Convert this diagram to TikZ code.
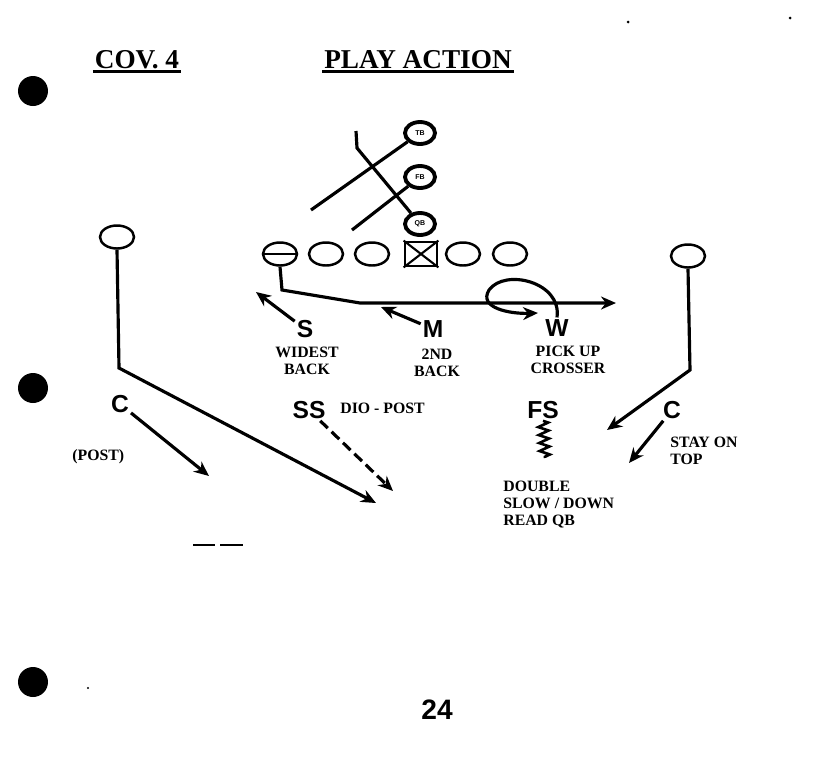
\documentclass[tikz,border=0pt]{standalone}
\usepackage{fontspec}
\setmainfont{Liberation Serif}
\setsansfont{Liberation Sans}
\usetikzlibrary{arrows.meta,shapes.geometric,decorations.pathmorphing}

\begin{document}
\begin{tikzpicture}[x=0.02cm,y=-0.02cm,
  player/.style={draw,ellipse,line width=1.4pt,inner sep=0pt,minimum width=0.68cm,minimum height=0.46cm},
  back/.style={draw,ellipse,line width=2.2pt,inner sep=0pt,minimum width=0.6cm,minimum height=0.44cm,font=\sffamily\bfseries\fontsize{4}{4}\selectfont},
  route/.style={line width=1.8pt},
  arr/.style={route,-{Stealth[length=3mm,width=2.6mm]}},
  defender/.style={font=\sffamily\bfseries\fontsize{14}{14}\selectfont,inner sep=1pt},
  note/.style={font=\bfseries\fontsize{9}{9.5}\selectfont,align=center,inner sep=0pt},
  heading/.style={font=\bfseries\fontsize{15.5}{15.5}\selectfont,inner sep=1pt},
  hole/.style={fill,circle,inner sep=0pt,minimum size=0.6cm},
]
  \useasboundingbox (0,0) rectangle (828,768);

  % headings
  \node[heading] (cov) at (137,60) {COV. 4};
  \node[heading] (play) at (418,60) {PLAY ACTION};
  \draw[line width=1.5pt] (cov.south west) -- (cov.south east);
  \draw[line width=1.5pt] (play.south west) -- (play.south east);

  % binder holes and specks
  \node[hole] (hole1) at (33,91) {};
  \node[hole] (hole2) at (33,388) {};
  \node[hole] (hole3) at (33,682) {};
  \fill (628,22) circle (1.5) (790,18) circle (1.5) (88,688) circle (1.2);

  % offensive line
  \node[player] (lt) at (280,254) {};
  \draw[line width=1.4pt] (lt.west) -- (lt.east);
  \node[player] (lg) at (326,254) {};
  \node[player] (lg2) at (372,254) {};
  \node[draw,line width=1.6pt,minimum width=0.64cm,minimum height=0.48cm,inner sep=0pt] (ctr) at (421,254) {};
  \draw[line width=1.2pt] (ctr.north west) -- (ctr.south east) (ctr.north east) -- (ctr.south west);
  \node[player] (rg) at (463,254) {};
  \node[player] (rt) at (510,254) {};

  % backfield
  \node[back] (tb) at (420,133) {TB};
  \node[back] (fb) at (420,177) {FB};
  \node[back] (qb) at (420,224) {QB};
  \coordinate (tbend) at (311,210);
  \coordinate (fbend) at (352,230);
  \coordinate (qbtop) at (356,131);
  \coordinate (qbbend) at (357,148);
  \draw[route] (tb) -- (tbend);
  \draw[route] (fb) -- (fbend);
  \draw[route] (qbtop) -- (qbbend) -- (qb);

  % receivers
  \node[player] (lwr) at (117,237) {};
  \node[player] (rwr) at (688,256) {};

  % linebackers
  \node[defender] (s) at (305,329) {S};
  \node[defender] (m) at (433,329) {M};
  \node[defender] (w) at (557,328) {W};
  \node[note] (sn) at (307,361) {WIDEST\\BACK};
  \node[note] (mn) at (437,363) {2ND\\BACK};
  \node[note] (wn) at (568,360) {PICK UP\\CROSSER};

  % secondary
  \node[defender] (lc) at (120,404) {C};
  \node[note,anchor=west] (lcn) at (72,457) {(POST)};
  \node[defender] (ss) at (309,410) {SS};
  \node[note,anchor=west] (ssn) at (340,408) {DIO - POST};
  \node[defender] (fs) at (543,410) {FS};
  \node[defender] (rc) at (672,410) {C};
  \node[note,align=left,anchor=north west] (rcn) at (670,437) {STAY ON\\TOP};
  \node[note,align=left,anchor=north west] (fsn) at (503,481) {DOUBLE\\SLOW / DOWN\\READ QB};

  % routes
  \coordinate (ltcorner) at (282,290);
  \coordinate (ltbend) at (360,303);
  \coordinate (ltend) at (616,303);
  \draw[arr] (lt.south) -- (ltcorner) -- (ltbend) -- (ltend);
  \coordinate (lwrcorner) at (119,368);
  \coordinate (lwrend) at (376,503);
  \draw[arr] (lwr.south) -- (lwrcorner) -- (lwrend);
  \coordinate (rwrcorner) at (690,370);
  \coordinate (rwrend) at (607,430);
  \draw[arr] (rwr.south) -- (rwrcorner) -- (rwrend);

  % coverage
  \coordinate (send) at (256,292);
  \coordinate (mend) at (381,307);
  \coordinate (wend) at (538,313);
  \coordinate (lcend) at (209,476);
  \coordinate (ssend) at (393,491);
  \coordinate (fsend) at (545,458);
  \coordinate (rcend) at (629,463);
  \draw[arr] (s) -- (send);
  \draw[arr] (m) -- (mend);
  \draw[arr] (w.north) .. controls (562,282) and (505,268) .. (489,290)
    .. controls (478,308) and (510,314) .. (wend);
  \draw[arr] (lc) -- (lcend);
  \draw[arr,dashed,dash pattern=on 6pt off 3pt] (ss) -- (ssend);
  \draw[line width=1.5pt,decorate,decoration={zigzag,segment length=0.16cm,amplitude=0.1cm}] (fs.south) -- (fsend);
  \draw[arr] (rc) -- (rcend);

  % marks
  \draw[line width=1.6pt] (193,545) -- (215,545) (220,545) -- (243,545);
  \node[font=\sffamily\bfseries\fontsize{16}{16}\selectfont] (page) at (437,710) {24};
\end{tikzpicture}
\end{document}
